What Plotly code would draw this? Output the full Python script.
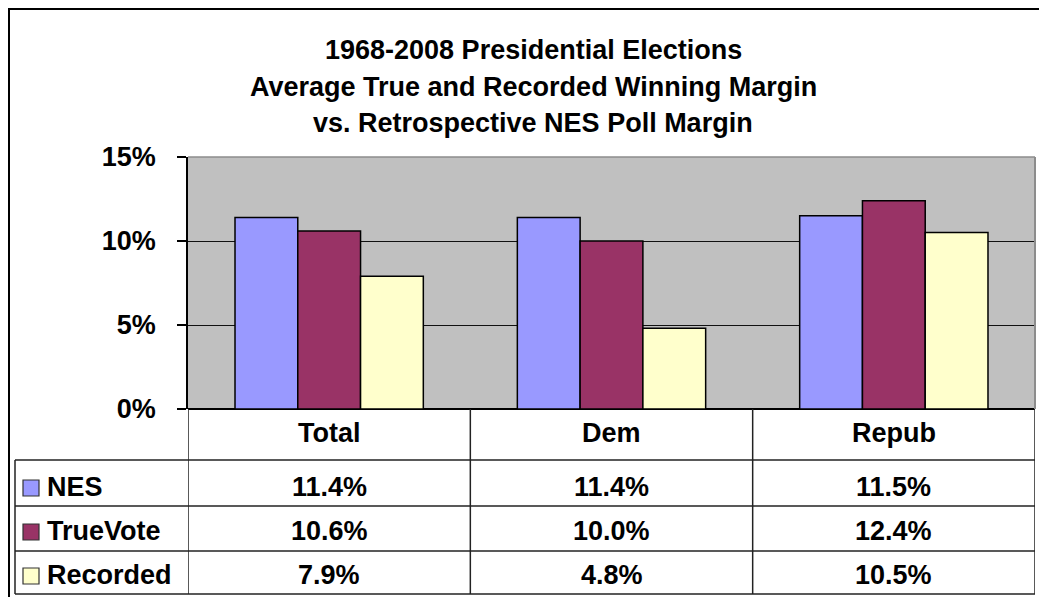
import plotly.graph_objects as go

# ---- data ----
categories = ["Total", "Dem", "Repub"]
series_names = ["NES", "TrueVote", "Recorded"]
nes = [11.4, 11.4, 11.5]
truevote = [10.6, 10.0, 12.4]
recorded = [7.9, 4.8, 10.5]
series_values = [nes, truevote, recorded]
series_colors = ["#9999FF", "#993366", "#FFFFCC"]
y_ticks = [0, 5, 10, 15]
title_lines = ["1968-2008 Presidential Elections",
               "Average True and Recorded Winning Margin",
               "vs. Retrospective NES Poll Margin"]

# page body has an 8px default margin; figure sized to fit the window
OFF = 8
W, H = 1047 - OFF, 597 - OFF
FONT = "Liberation Sans, Arial, sans-serif"


def px(x):
    return (x - OFF) / W


def py(y):
    return 1 - (y - OFF) / H


PLOT_L, PLOT_R, PLOT_T, PLOT_B = 188, 1035, 157, 409
TABLE_L = 15
ROW_LINES = [460, 506, 551, 594]
ROW_CENTERS = [487, 531, 575]
HEADER_CENTER = 433
TITLE_CENTERS = [50, 87, 123]

fig = go.Figure()
for name, vals, col in zip(series_names, series_values, series_colors):
    fig.add_trace(go.Bar(
        x=categories, y=[v / 100 for v in vals], name=name,
        marker=dict(color=col, line=dict(color="black", width=1.5)),
        showlegend=False, hoverinfo="skip"))

shapes = []
annotations = []

# outer chart border (as close to the window edge as the page allows)
shapes.append(dict(type="rect", xref="paper", yref="paper",
                   x0=px(9), x1=px(1070), y0=py(620), y1=py(9),
                   line=dict(color="black", width=2), layer="below"))
# plot area top/right gray border
shapes.append(dict(type="line", xref="paper", yref="paper",
                   x0=px(PLOT_L), x1=px(PLOT_R), y0=py(PLOT_T), y1=py(PLOT_T),
                   line=dict(color="#8c8c8c", width=1.5)))
shapes.append(dict(type="line", xref="paper", yref="paper",
                   x0=px(PLOT_R), x1=px(PLOT_R), y0=py(PLOT_T), y1=py(PLOT_B),
                   line=dict(color="#8c8c8c", width=2)))

# table horizontal lines
for yl in ROW_LINES:
    shapes.append(dict(type="line", xref="paper", yref="paper",
                       x0=px(TABLE_L), x1=px(PLOT_R), y0=py(yl), y1=py(yl),
                       line=dict(color="#222222", width=1.5)))
# table legend column left border
shapes.append(dict(type="line", xref="paper", yref="paper",
                   x0=px(TABLE_L), x1=px(TABLE_L), y0=py(ROW_LINES[0]), y1=py(ROW_LINES[-1]),
                   line=dict(color="#222222", width=1.5)))
# category boundaries (through the x axis)
n = len(categories)
for b in [i - 0.5 for i in range(n + 1)]:
    shapes.append(dict(type="line", xref="x", yref="paper",
                       x0=b, x1=b, y0=py(PLOT_B), y1=py(ROW_LINES[-1]),
                       line=dict(color="#222222", width=1.5)))

tfont = dict(family=FONT, size=27, color="black", weight="bold")

# title lines
for line, yc in zip(title_lines, TITLE_CENTERS):
    annotations.append(dict(x=px(533), xref="paper", y=py(yc), yref="paper",
                            text=line, showarrow=False, font=tfont,
                            xanchor="center", yanchor="middle"))

# header row
for c in categories:
    annotations.append(dict(x=c, xref="x", y=py(HEADER_CENTER), yref="paper",
                            text=c, showarrow=False, font=tfont,
                            xanchor="center", yanchor="middle"))
# value rows + legend column
for r, (name, vals, col) in enumerate(zip(series_names, series_values, series_colors)):
    yc = ROW_CENTERS[r]
    for c, v in zip(categories, vals):
        annotations.append(dict(x=c, xref="x", y=py(yc), yref="paper",
                                text=f"{v:.1f}%", showarrow=False, font=tfont,
                                xanchor="center", yanchor="middle"))
    annotations.append(dict(x=px(45), xref="paper", y=py(yc), yref="paper",
                            text=name, showarrow=False, font=tfont,
                            xanchor="left", yanchor="middle"))
    shapes.append(dict(type="rect", xref="paper", yref="paper",
                       x0=px(23), x1=px(39), y0=py(yc + 9), y1=py(yc - 7),
                       fillcolor=col, line=dict(color="#333333", width=1.2)))

fig.update_layout(
    width=W, height=H, autosize=False,
    margin=dict(l=0, r=0, t=0, b=0, pad=0),
    paper_bgcolor="white", plot_bgcolor="#C0C0C0",
    barmode="group", bargap=0.333, bargroupgap=0,
    xaxis=dict(domain=[px(PLOT_L), px(PLOT_R)], range=[-0.5, n - 0.5],
               showticklabels=False, showgrid=False, zeroline=False,
               showline=False, ticks="", automargin=False),
    yaxis=dict(domain=[py(PLOT_B), py(PLOT_T)], range=[0, 0.15],
               tickvals=[t / 100 for t in y_ticks],
               ticktext=[f"{t}%" for t in y_ticks],
               ticks="outside", ticklen=9, tickcolor="black", tickwidth=1.5,
               showline=True, linecolor="black", linewidth=1.5,
               showgrid=True, gridcolor="#111111", gridwidth=1.2,
               zeroline=True, zerolinecolor="black", zerolinewidth=1.5,
               ticklabelstandoff=16, automargin=False,
               tickfont=dict(family=FONT, size=27, color="black", weight="bold")),
    shapes=shapes, annotations=annotations,
)

fig.write_html("out.html")
